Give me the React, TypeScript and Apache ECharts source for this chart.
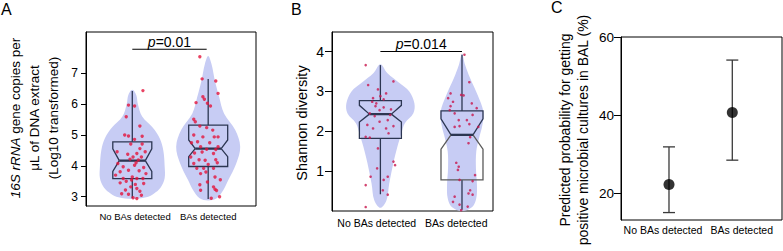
import React, { useEffect, useRef } from "react";
import * as echarts from "echarts";

// ---------- data ----------
const categories = ["No BAs detected", "BAs detected"];

// Panel A: 16S rRNA (log10)
const aTicks = [3, 4, 5, 6, 7];
// box stats: [whiskerLow, Q1, notchLow, median, notchHigh, Q3, whiskerHigh]
const aBoxNo = [2.96, 3.59, 3.82, 4.17, 4.55, 4.78, 6.43];
const aBoxYes = [2.93, 3.98, 4.3, 4.56, 4.84, 5.32, 6.82];
const aViolinNoLevels = [2.93, 2.98, 3.1, 3.3, 3.6, 4.0, 4.5, 4.9, 5.25, 5.6, 6.0, 6.3, 6.47];
const aViolinNoDensity = [0, 0.42, 0.65, 0.86, 0.98, 0.98, 0.94, 0.83, 0.61, 0.3, 0.17, 0.12, 0];
const aViolinYesLevels = [2.88, 2.95, 3.22, 3.54, 4.08, 4.62, 5.16, 5.7, 6.24, 6.78, 7.3, 7.56];
const aViolinYesDensity = [0, 0.26, 0.46, 0.61, 0.85, 0.97, 0.82, 0.48, 0.33, 0.2, 0.1, 0];
const aPointsNo = [
  [0.14, 6.44], [-0.05, 5.97], [0.03, 5.94], [-0.08, 5.59], [0.1, 5.29], [-0.1, 5.0], [-0.05, 4.97],
  [0.13, 4.96], [0.03, 4.86], [-0.02, 4.71], [0.13, 4.71], [0.1, 4.56], [-0.2, 4.46], [0.17, 4.46],
  [0.06, 4.4], [-0.06, 4.38], [0.01, 4.29], [0.12, 4.29], [0.08, 4.19], [-0.03, 4.22], [-0.19, 4.08],
  [0.05, 4.1], [0.03, 4.02], [-0.12, 3.97], [0.15, 3.95], [-0.05, 3.86], [0.09, 3.84], [-0.16, 3.81],
  [0.18, 3.75], [-0.22, 3.7], [-0.12, 3.59], [0.0, 3.64], [0.06, 3.59], [0.14, 3.59], [-0.01, 3.54],
  [-0.08, 3.5], [-0.16, 3.45], [0.15, 3.43], [0.04, 3.4], [-0.02, 3.32], [0.06, 3.27], [0.1, 3.18],
  [-0.14, 3.1], [-0.05, 3.08], [0.12, 3.05], [0.01, 2.97], [0.06, 2.94], [-0.09, 3.22],
];
const aPointsYes = [
  [-0.11, 7.54], [-0.08, 6.82], [0.1, 6.75], [0.13, 6.35], [-0.07, 6.24], [-0.05, 6.16], [-0.16, 6.05],
  [-0.01, 6.03], [0.03, 5.94], [-0.19, 5.51], [-0.17, 5.43], [-0.11, 5.29], [-0.02, 5.24], [0.06, 5.16],
  [-0.19, 5.0], [-0.07, 4.94], [0.08, 4.94], [0.13, 4.94], [-0.22, 4.75], [-0.14, 4.78], [0.02, 4.75],
  [-0.1, 4.62], [-0.02, 4.54], [0.1, 4.53], [0.13, 4.62], [-0.18, 4.42], [-0.08, 4.45], [0.07, 4.4],
  [-0.23, 4.29], [-0.12, 4.2], [-0.04, 4.18], [0.1, 4.2], [-0.19, 4.08], [0.0, 4.05], [0.12, 4.1],
  [-0.15, 3.92], [-0.06, 3.92], [0.07, 3.92], [-0.1, 3.75], [0.09, 3.64], [-0.01, 3.48], [-0.11, 3.39],
  [0.07, 3.32], [-0.1, 3.21], [0.09, 3.24], [0.11, 3.2], [0.15, 3.0], [0.04, 2.95], [0.16, 3.55], [-0.03, 3.8],
];
const aPValue = "0.01";
const aPLevel = 7.78;

// Panel B: Shannon diversity
const bTicks = [1, 2, 3, 4];
const bBoxNo = [0.42, 1.82, 2.23, 2.43, 2.65, 2.77, 3.66];
const bBoxYes = [0.03, 0.78, 1.55, 1.91, 2.31, 2.51, 3.92];
const bViolinNoLevels = [0.08, 0.27, 0.69, 1.2, 1.61, 1.95, 2.2, 2.45, 2.7, 3.0, 3.21, 3.46, 3.68];
const bViolinNoDensity = [0, 0.18, 0.26, 0.38, 0.5, 0.62, 0.72, 0.97, 1.0, 0.85, 0.56, 0.2, 0];
const bViolinYesLevels = [0.0, 0.1, 0.32, 0.65, 1.07, 1.49, 1.82, 2.16, 2.49, 2.91, 3.33, 3.67, 3.94];
const bViolinYesDensity = [0, 0.3, 0.42, 0.44, 0.41, 0.42, 0.5, 0.6, 0.63, 0.46, 0.24, 0.09, 0];
const bPointsNo = [
  [-0.18, 3.66], [-0.15, 3.16], [0.16, 3.25], [-0.03, 3.05], [0.07, 2.95], [-0.09, 2.83], [0.0, 2.88],
  [0.04, 2.8], [-0.1, 2.74], [-0.06, 2.63], [0.04, 2.6], [-0.01, 2.53], [-0.13, 2.45], [-0.07, 2.38],
  [0.12, 2.41], [0.09, 2.28], [-0.01, 2.24], [-0.16, 2.16], [0.16, 2.13], [-0.09, 2.07], [0.07, 2.07],
  [-0.18, 1.86], [-0.13, 1.84], [-0.03, 1.57], [0.16, 1.24], [0.18, 1.15], [-0.04, 1.07], [-0.12, 0.86],
  [0.09, 0.86], [0.04, 0.78], [0.03, 0.52], [0.09, 0.41], [-0.18, 0.65], [-0.18, 0.1], [0.1, 1.95],
  [-0.05, 2.7], [0.13, 2.55],
];
const bPointsYes = [
  [0.03, 3.92], [0.09, 3.23], [-0.17, 2.83], [-0.11, 2.74], [-0.14, 2.63], [-0.01, 2.91], [0.02, 2.9],
  [-0.15, 2.53], [-0.09, 2.45], [0.18, 2.58], [0.13, 2.41], [-0.04, 2.28], [0.06, 2.28], [-0.09, 2.11],
  [-0.03, 2.13], [0.09, 2.18], [0.2, 2.11], [0.1, 1.85], [0.08, 1.7], [-0.07, 1.21], [-0.04, 1.11],
  [-0.05, 1.03], [0.16, 0.9], [0.13, 0.75], [-0.03, 0.78], [0.1, 0.52], [0.08, 0.44], [0.13, 0.41],
  [-0.09, 0.36], [-0.11, 0.23], [-0.03, 0.16], [0.07, 0.11], [-0.01, 0.02], [-0.14, 2.95], [0.12, 2.7],
];
const bPValue = "0.014";
const bPLevel = 4.0;

// Panel C: predicted probability (%)
const cTicks = [20, 40, 60];
const cEstimate = [22.3, 40.7];
const cLower = [15.1, 28.5];
const cUpper = [31.9, 54.1];

// ---------- styles ----------
const FONT = "'Liberation Sans', Arial, Helvetica, sans-serif";
const VIOLIN_FILL = "#c7ccf4";
const BOX_COLOR = "#2c3652";
const DOT_A = "#e3143c";
const DOT_B = "#c8164e";

function violinRender(profiles: { levels: number[]; dens: number[] }[], halfPx: number) {
  return (params: any, api: any) => {
    const i = params.dataIndex;
    const cat = api.value(0);
    const { levels, dens } = profiles[i];
    const right: number[][] = [];
    const left: number[][] = [];
    for (let k = 0; k < levels.length; k++) {
      const p = api.coord([cat, levels[k]]);
      right.push([p[0] + dens[k] * halfPx, p[1]]);
      if (dens[k] > 0) left.push([p[0] - dens[k] * halfPx, p[1]]);
    }
    const pts = right.concat(left.reverse());
    return {
      type: "polygon",
      shape: { points: pts, smooth: 0.35 },
      style: { fill: VIOLIN_FILL, stroke: "none" },
      silent: true,
    };
  };
}

function boxRender(hw: number, nw: number, lowerColors: string[]) {
  return (params: any, api: any) => {
    const cat = api.value(0);
    const v = [1, 2, 3, 4, 5, 6, 7].map((d) => api.value(d));
    const y = v.map((val) => api.coord([cat, val])[1]);
    const cx = api.coord([cat, v[3]])[0];
    const [ywl, yq1, ynl, ymed, ynh, yq3, ywh] = y;
    const lc = lowerColors[params.dataIndex] || BOX_COLOR;
    const st = { stroke: BOX_COLOR, lineWidth: 1.3, fill: "none" };
    return {
      type: "group",
      children: [
        { type: "line", shape: { x1: cx, y1: ywh, x2: cx, y2: yq3 }, style: { stroke: BOX_COLOR, lineWidth: 1.3 } },
        { type: "line", shape: { x1: cx, y1: yq1, x2: cx, y2: ywl }, style: { stroke: BOX_COLOR, lineWidth: 1.3 } },
        {
          type: "polyline",
          shape: { points: [[cx - nw, ymed], [cx - hw, ynh], [cx - hw, yq3], [cx + hw, yq3], [cx + hw, ynh], [cx + nw, ymed]] },
          style: st,
        },
        {
          type: "polyline",
          shape: { points: [[cx - nw, ymed], [cx - hw, ynl], [cx - hw, yq1], [cx + hw, yq1], [cx + hw, ynl], [cx + nw, ymed]] },
          style: { ...st, stroke: lc },
        },
        { type: "line", shape: { x1: cx - nw, y1: ymed, x2: cx + nw, y2: ymed }, style: { stroke: BOX_COLOR, lineWidth: 2.3 } },
      ],
    };
  };
}

function pRender(text: string) {
  return (params: any, api: any) => {
    const a = api.coord([api.value(0), api.value(2)]);
    const b = api.coord([api.value(1), api.value(2)]);
    return {
      type: "group",
      children: [
        { type: "line", shape: { x1: a[0], y1: a[1], x2: b[0], y2: b[1] }, style: { stroke: "#000", lineWidth: 1.1 } },
        {
          type: "text",
          style: {
            text: "{i|p}=" + text,
            x: (a[0] + b[0]) / 2,
            y: a[1] - 0.5,
            align: "center",
            verticalAlign: "bottom",
            fontSize: 14,
            fontFamily: FONT,
            fill: "#000",
            rich: { i: { fontStyle: "italic", fontSize: 14, fontFamily: FONT } },
          },
        },
      ],
    };
  };
}

function errRender(params: any, api: any) {
  const lo = api.coord([api.value(0), api.value(1)]);
  const hi = api.coord([api.value(0), api.value(2)]);
  const cap = 6;
  const s = { stroke: "#3a3a3a", lineWidth: 1.3 };
  return {
    type: "group",
    children: [
      { type: "line", shape: { x1: lo[0], y1: lo[1], x2: hi[0], y2: hi[1] }, style: s },
      { type: "line", shape: { x1: lo[0] - cap, y1: lo[1], x2: lo[0] + cap, y2: lo[1] }, style: s },
      { type: "line", shape: { x1: hi[0] - cap, y1: hi[1], x2: hi[0] + cap, y2: hi[1] }, style: s },
    ],
  };
}

function makeX(gridIndex: number, min: number, max: number, labelPos: number[], fontSize: number, margin: number) {
  return {
    gridIndex,
    type: "value",
    min,
    max,
    axisLine: { show: false },
    axisTick: { show: false },
    splitLine: { show: false },
    axisLabel: {
      customValues: labelPos,
      formatter: (v: number) => (v < 1.5 ? categories[0] : categories[1]),
      fontSize,
      color: "#000",
      fontFamily: FONT,
      margin,
    },
  };
}

function makeY(gridIndex: number, min: number, max: number, ticks: number[], fontSize: number, tickLen: number, margin: number) {
  return {
    gridIndex,
    type: "value",
    min,
    max,
    axisLine: { show: true, lineStyle: { color: "#000", width: 1 } },
    axisTick: { show: true, length: tickLen, customValues: ticks, lineStyle: { color: "#000", width: 1 } },
    splitLine: { show: false },
    axisLabel: { customValues: ticks, fontSize, color: "#000", fontFamily: FONT, margin },
  };
}

export default function App() {
  const ref = useRef<HTMLDivElement>(null);
  useEffect(() => {
    if (!ref.current) return;
    const chart = echarts.init(ref.current, undefined, { renderer: "svg" });
    const gridBase = { show: true, borderColor: "#000", borderWidth: 1, backgroundColor: "transparent", containLabel: false, outerBoundsMode: "none" };
    const option: any = {
      animation: false,
      textStyle: { fontFamily: FONT },
      grid: [
        { ...gridBase, left: 86, top: 32, width: 170, height: 174 },
        { ...gridBase, left: 332, top: 32, width: 161, height: 179 },
        { ...gridBase, left: 621, top: 37, width: 161, height: 183 },
      ],
      xAxis: [
        makeX(0, 0.39, 2.63, [1.036, 2.0], 9.5, 5),
        makeX(1, 0.407, 2.38, [0.955, 1.93], 10.5, 6),
        makeX(2, 0.242, 2.785, [0.905, 2.15], 10.5, 4),
      ],
      yAxis: [
        makeY(0, 2.7, 8.34, aTicks, 12, 5, 8),
        makeY(1, 0, 4.49, bTicks, 14, 7, 8),
        makeY(2, 13.2, 60, cTicks, 13.5, 7, 7),
      ],
      graphic: [
        { type: "text", left: 1, top: 1, style: { text: "A", fontSize: 16, fontFamily: FONT, fill: "#000" } },
        { type: "text", left: 291, top: 1, style: { text: "B", fontSize: 16, fontFamily: FONT, fill: "#000" } },
        { type: "text", left: 551, top: -1, style: { text: "C", fontSize: 16, fontFamily: FONT, fill: "#000" } },
        {
          type: "text",
          x: 34,
          y: 118,
          rotation: Math.PI / 2,
          style: {
            text: "{i|16S rRNA} gene copies per\nμL of DNA extract\n(Log10 transformed)",
            align: "center",
            verticalAlign: "middle",
            fontSize: 13.5,
            lineHeight: 19,
            fontFamily: FONT,
            fill: "#000",
            rich: { i: { fontStyle: "italic", fontSize: 13.5, lineHeight: 19, fontFamily: FONT } },
          },
        },
        {
          type: "text",
          x: 302,
          y: 123,
          rotation: Math.PI / 2,
          style: { text: "Shannon diversity", align: "center", verticalAlign: "middle", fontSize: 14.5, fontFamily: FONT, fill: "#000" },
        },
        {
          type: "text",
          x: 574,
          y: 130,
          rotation: Math.PI / 2,
          style: {
            text: "Predicted probability for getting\npositive microbial cultures in BAL (%)",
            align: "center",
            verticalAlign: "middle",
            fontSize: 14,
            lineHeight: 18,
            fontFamily: FONT,
            fill: "#000",
          },
        },
      ],
      series: [
        // Panel A
        {
          type: "custom",
          xAxisIndex: 0,
          yAxisIndex: 0,
          data: [[1], [2]],
          renderItem: violinRender(
            [
              { levels: aViolinNoLevels, dens: aViolinNoDensity },
              { levels: aViolinYesLevels, dens: aViolinYesDensity },
            ],
            33
          ),
          z: 1,
        },
        {
          type: "custom",
          xAxisIndex: 0,
          yAxisIndex: 0,
          data: [[1, ...aBoxNo], [2, ...aBoxYes]],
          renderItem: boxRender(19.5, 13, [BOX_COLOR, BOX_COLOR]),
          z: 2,
        },
        {
          type: "scatter",
          xAxisIndex: 0,
          yAxisIndex: 0,
          symbolSize: 3.4,
          itemStyle: { color: DOT_A },
          data: [...aPointsNo.map((p) => [1 + p[0], p[1]]), ...aPointsYes.map((p) => [2 + p[0], p[1]])],
          z: 3,
        },
        {
          type: "custom",
          xAxisIndex: 0,
          yAxisIndex: 0,
          data: [[1, 1.98, aPLevel]],
          renderItem: pRender(aPValue),
          clip: false,
          z: 4,
        },
        // Panel B
        {
          type: "custom",
          xAxisIndex: 1,
          yAxisIndex: 1,
          data: [[1], [2]],
          renderItem: violinRender(
            [
              { levels: bViolinNoLevels, dens: bViolinNoDensity },
              { levels: bViolinYesLevels, dens: bViolinYesDensity },
            ],
            34
          ),
          z: 1,
        },
        {
          type: "custom",
          xAxisIndex: 1,
          yAxisIndex: 1,
          data: [[1, ...bBoxNo], [2, ...bBoxYes]],
          renderItem: boxRender(21, 11, [BOX_COLOR, "#5a5a5a"]),
          z: 2,
        },
        {
          type: "scatter",
          xAxisIndex: 1,
          yAxisIndex: 1,
          symbolSize: 2.6,
          itemStyle: { color: DOT_B },
          data: [...bPointsNo.map((p) => [1 + p[0], p[1]]), ...bPointsYes.map((p) => [2 + p[0], p[1]])],
          z: 3,
        },
        {
          type: "custom",
          xAxisIndex: 1,
          yAxisIndex: 1,
          data: [[1, 2, bPLevel]],
          renderItem: pRender(bPValue),
          clip: false,
          z: 4,
        },
        // Panel C
        {
          type: "custom",
          xAxisIndex: 2,
          yAxisIndex: 2,
          data: [[1, cLower[0], cUpper[0]], [2, cLower[1], cUpper[1]]],
          renderItem: errRender,
          z: 2,
        },
        {
          type: "scatter",
          xAxisIndex: 2,
          yAxisIndex: 2,
          symbolSize: 11,
          itemStyle: { color: "#000" },
          data: [[1, cEstimate[0]], [2, cEstimate[1]]],
          z: 3,
        },
      ],
    };
    chart.setOption(option);
    return () => chart.dispose();
  }, []);
  return <div ref={ref} style={{ position: "absolute", left: 0, top: 0, width: 783, height: 251 }} />;
}
